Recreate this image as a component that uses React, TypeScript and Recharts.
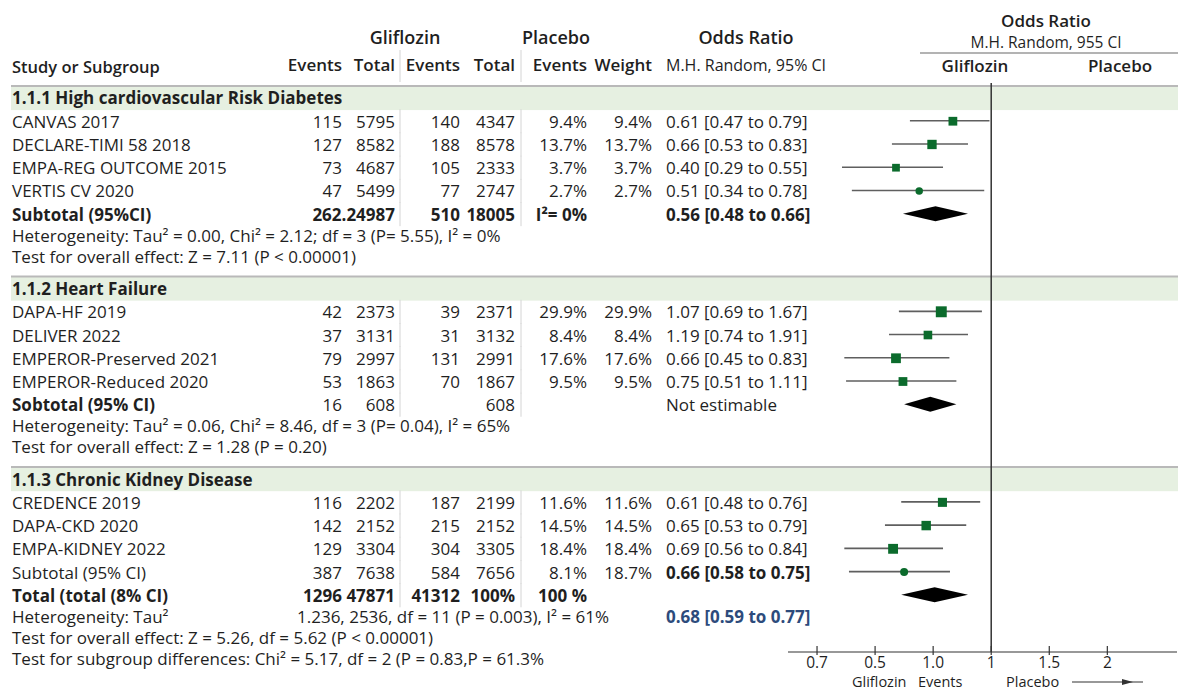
import { ComposedChart, Bar, Scatter, XAxis, YAxis, ReferenceLine, ReferenceArea } from 'recharts';

const FONT = '"Open Sans", "Noto Sans", sans-serif';
const TEXT = '#1f1f1f';
const GREEN = '#0b6b2c';
const BAND = '#e6f0e1';
const RULE = '#b9b9b9';

// x axis: evenly spaced positions, labelled as printed in the figure
const axisLabels = ['0.7', '0.5', '1.0', '1', '1.5', '2'];
const axisTicks = [0, 1, 2, 3, 4, 5];

const groupTitles = ['1.1.1 High cardiovascular Risk Diabetes', '1.1.2 Heart Failure', '1.1.3 Chronic Kidney Disease'];

const studies = [
  'CANVAS 2017', 'DECLARE-TIMI 58 2018', 'EMPA-REG OUTCOME 2015', 'VERTIS CV 2020',
  'DAPA-HF 2019', 'DELIVER 2022', 'EMPEROR-Preserved 2021', 'EMPEROR-Reduced 2020',
  'CREDENCE 2019', 'DAPA-CKD 2020', 'EMPA-KIDNEY 2022',
];
const studyGroup = [0, 0, 0, 0, 1, 1, 1, 1, 2, 2, 2];
const glifEvents = [115, 127, 73, 47, 42, 37, 79, 53, 116, 142, 129];
const glifTotal = [5795, 8582, 4687, 5499, 2373, 3131, 2997, 1863, 2202, 2152, 3304];
const placEvents = [140, 188, 105, 77, 39, 31, 131, 70, 187, 215, 304];
const placTotal = [4347, 8578, 2333, 2747, 2371, 3132, 2991, 1867, 2199, 2152, 3305];
const weights = [9.4, 13.7, 3.7, 2.7, 29.9, 8.4, 17.6, 9.5, 11.6, 14.5, 18.4];
const orText = [
  '0.61 [0.47 to 0.79]', '0.66 [0.53 to 0.83]', '0.40 [0.29 to 0.55]', '0.51 [0.34 to 0.78]',
  '1.07 [0.69 to 1.67]', '1.19 [0.74 to 1.91]', '0.66 [0.45 to 0.83]', '0.75 [0.51 to 1.11]',
  '0.61 [0.48 to 0.76]', '0.65 [0.53 to 0.79]', '0.69 [0.56 to 0.84]',
];
// where the marks sit on the (index) axis above
const plotEst = [2.34, 1.98, 1.36, 1.76, 2.14, 1.91, 1.36, 1.48, 2.16, 1.88, 1.31];
const plotLo = [1.6, 1.29, 0.43, 0.6, 1.41, 1.24, 0.47, 0.5, 1.45, 1.17, 0.47];
const plotHi = [2.97, 2.6, 2.17, 2.88, 2.84, 2.6, 2.28, 2.4, 2.81, 2.57, 2.17];
const roundMarkers = ['VERTIS CV 2020'];

const subLabels = ['Subtotal (95%CI)', 'Sobtotal (95% CI)', 'Subtotal (95% CI)'];
const subCells = [
  [null, '262.24987', '510', '18005', 'I²= 0%', null],
  ['16', '608', null, '608', null, null],
  ['387', '7638', '584', '7656', '8.1%', '18.7%'],
];
const subOr = ['0.56 [0.48 to 0.66]', 'Not estimable', '0.66 [0.58 to 0.75]'];
const subDiamondLo = [1.48, 1.5, null];
const subDiamondHi = [2.6, 2.4, null];
// third subtotal is drawn as a point with an interval
const sub3Est = 1.5;
const sub3Lo = 0.55;
const sub3Hi = 2.29;

const groupNotes = [
  ['Heterogeneity: Tau² = 0.00, Chi² = 2.12; df = 3 (P= 5.55), I² = 0%', 'Test for overall effect: Z = 7.11 (P < 0.00001)'],
  ['Heterogeneity: Tau² = 0.06, Chi² = 8.46, df = 3 (P= 0.04), I² = 65%', 'Test for overall effect: Z = 1.28 (P = 0.20)'],
  [],
];

const totalLabel = 'Total (total (8% CI)';
const totalCells = [null, '1296 47871', '41312', '100%', '100 %', null];
const totalLo = 1.45;
const totalHi = 2.6;
const totalHet = ['Heterogeneity: Tau²', '1.236, 2536, df = 11 (P = 0.003), I² = 61%', '0.68 [0.59 to 0.77]'];
const totalNotes = [
  'Test for overall effect:  Z = 5.26, df = 5.62 (P < 0.00001)',
  'Test for subgroup differences:  Chi² = 5.17, df = 2 (P = 0.83,P = 61.3%',
];

type Row = {
  kind: 'band' | 'study' | 'sub' | 'total' | 'note';
  label: string;
  pos: number;
  cells?: (string | null)[];
  or?: string;
  mid?: string;
  labelBold?: boolean;
  cellsBold?: boolean;
  orBold?: boolean;
  orBlue?: boolean;
  span?: [number, number];
  diamond?: boolean;
  est?: number;
  size?: number;
  round?: boolean;
};

const rows: Row[] = [];
let cursor = 0;
const push = (r: Omit<Row, 'pos'>) => {
  if (rows.length) cursor += r.kind === 'band' ? 1.4 : r.kind === 'note' ? 0.9 : 1;
  rows.push({ ...r, pos: cursor });
};
const markerSize = (w: number) => 6 + Math.sqrt(w) * 0.9;

groupTitles.forEach((title, g) => {
  push({ kind: 'band', label: title });
  studies.forEach((name, i) => {
    if (studyGroup[i] !== g) return;
    push({
      kind: 'study', label: name,
      cells: [String(glifEvents[i]), String(glifTotal[i]), String(placEvents[i]), String(placTotal[i]), `${weights[i]}%`, `${weights[i]}%`],
      or: orText[i], span: [plotLo[i], plotHi[i]], est: plotEst[i], size: markerSize(weights[i]),
      round: roundMarkers.includes(name),
    });
  });
  const lo = subDiamondLo[g];
  const hi = subDiamondHi[g];
  push({
    kind: 'sub', label: subLabels[g], cells: subCells[g], or: subOr[g],
    labelBold: g < 2, cellsBold: g === 0, orBold: g !== 1,
    ...(lo != null && hi != null
      ? { span: [lo, hi] as [number, number], diamond: true }
      : { span: [sub3Lo, sub3Hi] as [number, number], est: sub3Est, size: 8, round: true }),
  });
  groupNotes[g].forEach((n) => push({ kind: 'note', label: n }));
});
push({ kind: 'total', label: totalLabel, cells: totalCells, labelBold: true, cellsBold: true, span: [totalLo, totalHi], diamond: true });
push({ kind: 'note', label: totalHet[0], mid: totalHet[1], or: totalHet[2], orBold: true, orBlue: true });
totalNotes.forEach((n) => push({ kind: 'note', label: n }));

const markerRows = rows.filter((r) => r.est != null);
const rowTicks = rows.map((r) => r.pos);

const COLS = [342, 395, 460, 515, 587, 652];
const OR_X = 666;
const SEPS = [400, 521];
const BODY = 17;

const RowTick = (props: any) => {
  const { y, payload } = props;
  const row = rows.find((r) => Math.abs(r.pos - payload.value) < 1e-6);
  if (!row) return null;
  const base = { fontFamily: FONT, fontSize: BODY, fill: TEXT, dominantBaseline: 'central' as const };
  if (row.kind === 'band') {
    return (
      <text {...base} x={12} y={y} fontWeight={700} fontSize={17}>
        {row.label}
      </text>
    );
  }
  return (
    <g>
      {row.kind !== 'note' &&
        SEPS.map((sx) => <line key={sx} x1={sx} x2={sx} y1={y - 12} y2={y + 12} stroke="#d4d4d4" strokeWidth={1} />)}
      <text {...base} x={12} y={y} fontWeight={row.labelBold ? 700 : 400}>
        {row.label}
      </text>
      {row.cells?.map((c, i) =>
        c == null ? null : (
          <text key={i} {...base} x={COLS[i]} y={y} textAnchor="end" fontWeight={row.cellsBold ? 700 : 400}>
            {c}
          </text>
        ),
      )}
      {row.mid && (
        <text {...base} x={297} y={y}>
          {row.mid}
        </text>
      )}
      {row.or && (
        <text {...base} x={OR_X} y={y} fontWeight={row.orBold ? 700 : 400} fill={row.orBlue ? '#2d4b7c' : TEXT}>
          {row.or}
        </text>
      )}
    </g>
  );
};

const SpanShape = (props: any) => {
  const { x, y, width, height, payload } = props;
  if (!payload?.span || ![x, y, width, height].every(Number.isFinite)) return null;
  const cy = y + height / 2;
  if (payload.diamond) {
    const cx = x + width / 2;
    return <polygon points={`${x},${cy} ${cx},${cy - 7.5} ${x + width},${cy} ${cx},${cy + 7.5}`} fill="#000" />;
  }
  return <line x1={x} x2={x + width} y1={cy} y2={cy} stroke="#5f5f5f" strokeWidth={1.6} />;
};

const MarkerShape = (props: any) => {
  const { cx, cy, payload } = props;
  if (!Number.isFinite(cx) || !Number.isFinite(cy)) return null;
  const s = payload.size ?? 9;
  if (payload.round) return <circle cx={cx} cy={cy} r={s / 2} fill={GREEN} />;
  return <rect x={cx - s / 2} y={cy - s / 2} width={s} height={s} fill={GREEN} />;
};

const BandShape = (props: any) => {
  const { y, height } = props;
  if (!Number.isFinite(y)) return null;
  return (
    <g>
      <rect x={11} y={y} width={1178 - 11} height={height} fill={BAND} />
      <line x1={11} x2={1178} y1={y} y2={y} stroke={RULE} strokeWidth={2} />
    </g>
  );
};

const XTick = (props: any) => {
  const { x, y, payload } = props;
  return (
    <g>
      <line x1={x} x2={x} y1={y - 6} y2={y + 3} stroke="#333" strokeWidth={1.2} />
      <text x={x} y={y + 16} textAnchor="middle" fontFamily={FONT} fontSize={15.5} fill={TEXT}>
        {axisLabels[payload.value]}
      </text>
    </g>
  );
};

const hdr = { fontFamily: FONT, fill: TEXT, dominantBaseline: 'central' as const };

export default function App() {
  return (
    <div style={{ position: 'absolute', left: 0, top: 0, width: 1178, height: 689, background: '#fff' }}>
      <ComposedChart
        width={1178}
        height={689}
        layout="vertical"
        data={rows}
        margin={{ top: 83, right: 1, bottom: 0, left: 0 }}
      >
        {rows
          .filter((r) => r.kind === 'band')
          .map((r) => (
            <ReferenceArea key={r.label} y1={r.pos - 0.52} y2={r.pos + 0.52} shape={BandShape} ifOverflow="visible" />
          ))}
        <XAxis
          type="number"
          domain={[-0.5, 6.2]}
          ticks={axisTicks}
          allowDataOverflow
          height={37}
          tickLine={false}
          tickSize={0}
          tickMargin={0}
          axisLine={{ stroke: '#333', strokeWidth: 1.2 }}
          tick={XTick}
          interval={0}
        />
        <YAxis
          type="number"
          dataKey="pos"
          domain={[-0.645, 23.84]}
          allowDataOverflow
          ticks={rowTicks}
          interval={0}
          width={788}
          axisLine={false}
          tickLine={false}
          tick={RowTick}
        />
        <ReferenceLine x={3} stroke="#333" strokeWidth={1.5} />
        <Bar dataKey="span" barSize={14} shape={SpanShape} isAnimationActive={false} />
        <Scatter data={markerRows} dataKey="est" shape={MarkerShape} isAnimationActive={false} />
      </ComposedChart>
      <svg width={1178} height={689} style={{ position: 'absolute', left: 0, top: 0, pointerEvents: 'none' }}>
        <text {...hdr} x={405} y={37} textAnchor="middle" fontSize={18} fontWeight={600}>Gliflozin</text>
        <text {...hdr} x={556} y={37} textAnchor="middle" fontSize={18} fontWeight={600}>Placebo</text>
        <text {...hdr} x={746} y={37} textAnchor="middle" fontSize={18} fontWeight={600}>Odds Ratio</text>
        <text {...hdr} x={1046} y={20} textAnchor="middle" fontSize={17} fontWeight={600}>Odds Ratio</text>
        <text {...hdr} x={1046} y={42} textAnchor="middle" fontSize={15.5}>M.H. Random, 955 CI</text>
        <line x1={920} x2={1178} y1={53} y2={53} stroke="#9a9a9a" strokeWidth={1.5} />
        <text {...hdr} x={975} y={65} textAnchor="middle" fontSize={17} fontWeight={600}>Gliflozin</text>
        <text {...hdr} x={1120} y={65} textAnchor="middle" fontSize={17} fontWeight={600}>Placebo</text>
        <text {...hdr} x={12} y={66} fontSize={16.5} fontWeight={600}>Study or Subgroup</text>
        {['Events', 'Total', 'Events', 'Total', 'Events', 'Weight'].map((h, i) => (
          <text key={i} {...hdr} x={COLS[i]} y={64} textAnchor="end" fontSize={17} fontWeight={600}>{h}</text>
        ))}
        <text {...hdr} x={OR_X} y={65} fontSize={16}>M.H. Random, 95% CI</text>
        {SEPS.map((sx) => (
          <line key={sx} x1={sx} x2={sx} y1={50} y2={82} stroke="#d4d4d4" strokeWidth={1} />
        ))}
        <text {...hdr} x={852} y={681} fontSize={14.5}>Gliflozin</text>
        <text {...hdr} x={918} y={681} fontSize={14.5}>Events</text>
        <text {...hdr} x={1006} y={681} fontSize={14.5}>Placebo</text>
        <line x1={1072} x2={1143} y1={682} y2={682} stroke="#333" strokeWidth={1.2} />
        <polygon points="1122,679 1133,682 1122,685" fill="#333" />
      </svg>
    </div>
  );
}
